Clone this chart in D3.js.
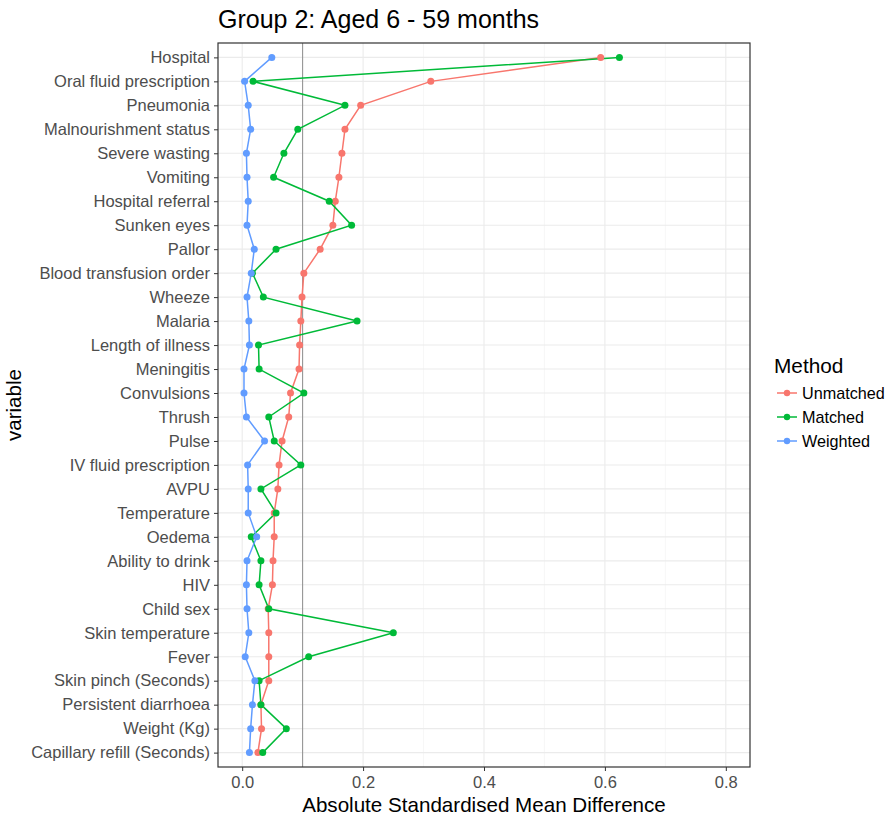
<!DOCTYPE html>
<html>
<head>
<meta charset="utf-8">
<script src="https://cdnjs.cloudflare.com/ajax/libs/d3/7.8.5/d3.min.js"></script>
<style>
  html, body { margin: 0; padding: 0; background: #fff; }
  svg { display: block; font-family: "Liberation Sans", Arial, sans-serif; }
</style>
</head>
<body>
<script>
// Covariates, top to bottom
const variables = [
  "Hospital", "Oral fluid prescription", "Pneumonia", "Malnourishment status",
  "Severe wasting", "Vomiting", "Hospital referral", "Sunken eyes", "Pallor",
  "Blood transfusion order", "Wheeze", "Malaria", "Length of illness",
  "Meningitis", "Convulsions", "Thrush", "Pulse", "IV fluid prescription",
  "AVPU", "Temperature", "Oedema", "Ability to drink", "HIV", "Child sex",
  "Skin temperature", "Fever", "Skin pinch (Seconds)", "Persistent diarrhoea",
  "Weight (Kg)", "Capillary refill (Seconds)"
];

const unmatched = [
  0.593, 0.312, 0.196, 0.170, 0.165, 0.160, 0.154, 0.150, 0.129, 0.102,
  0.099, 0.097, 0.095, 0.094, 0.080, 0.077, 0.066, 0.061, 0.059, 0.053,
  0.053, 0.051, 0.050, 0.043, 0.044, 0.044, 0.044, 0.031, 0.032, 0.026
];
const matched = [
  0.624, 0.018, 0.170, 0.092, 0.069, 0.052, 0.144, 0.181, 0.056, 0.017,
  0.035, 0.190, 0.027, 0.028, 0.102, 0.044, 0.053, 0.097, 0.031, 0.056,
  0.015, 0.031, 0.028, 0.044, 0.250, 0.110, 0.028, 0.031, 0.073, 0.034
];
const weighted = [
  0.049, 0.004, 0.010, 0.014, 0.007, 0.008, 0.010, 0.008, 0.020, 0.015,
  0.008, 0.011, 0.012, 0.003, 0.003, 0.007, 0.037, 0.009, 0.010, 0.010,
  0.024, 0.008, 0.007, 0.008, 0.011, 0.005, 0.021, 0.017, 0.014, 0.012
];

const methods = ["Unmatched", "Matched", "Weighted"];
const methodColors = ["#F8766D", "#00BA38", "#619CFF"];
const xTicks = [0, 0.2, 0.4, 0.6, 0.8];
const xMinor = [0.1, 0.3, 0.5, 0.7];
const threshold = 0.1;

const W = 889, H = 818;
const panel = { left: 218, top: 43, right: 750, bottom: 767 };

const svg = d3.select("body").append("svg").attr("width", W).attr("height", H);

// x: limits 0..0.8 with 5% expansion
const x = d3.scaleLinear().domain([-0.04, 0.84]).range([panel.left, panel.right]);
const y = d3.scalePoint().domain(variables).range([panel.top, panel.bottom]).padding(0.6);

// panel background
svg.append("rect")
  .attr("x", panel.left).attr("y", panel.top)
  .attr("width", panel.right - panel.left).attr("height", panel.bottom - panel.top)
  .attr("fill", "#fff");

const grid = svg.append("g");
grid.selectAll(".minor").data(xMinor).enter().append("line")
  .attr("x1", d => x(d)).attr("x2", d => x(d))
  .attr("y1", panel.top).attr("y2", panel.bottom)
  .attr("stroke", "#f2f2f2").attr("stroke-width", 0.6);
grid.selectAll(".majx").data(xTicks).enter().append("line")
  .attr("x1", d => x(d)).attr("x2", d => x(d))
  .attr("y1", panel.top).attr("y2", panel.bottom)
  .attr("stroke", "#ebebeb").attr("stroke-width", 1.1);
grid.selectAll(".majy").data(variables).enter().append("line")
  .attr("x1", panel.left).attr("x2", panel.right)
  .attr("y1", d => y(d)).attr("y2", d => y(d))
  .attr("stroke", "#ebebeb").attr("stroke-width", 1.1);

// reference line at 0.1
svg.append("line")
  .attr("x1", x(threshold)).attr("x2", x(threshold))
  .attr("y1", panel.top).attr("y2", panel.bottom)
  .attr("stroke", "#8c8c8c").attr("stroke-width", 1);

const seriesValues = [unmatched, matched, weighted];
const series = methods.map((m, i) => ({
  name: m, color: methodColors[i],
  points: variables.map((v, j) => ({ v, val: seriesValues[i][j] }))
}));

const line = d3.line().x(d => x(d.val)).y(d => y(d.v));

svg.append("g").selectAll("path").data(series).enter().append("path")
  .attr("d", d => line(d.points))
  .attr("fill", "none").attr("stroke", d => d.color).attr("stroke-width", 1.5);

series.forEach(s => {
  svg.append("g").selectAll("circle").data(s.points).enter().append("circle")
    .attr("cx", d => x(d.val)).attr("cy", d => y(d.v)).attr("r", 3.5)
    .attr("fill", s.color);
});

// panel border
svg.append("rect")
  .attr("x", panel.left).attr("y", panel.top)
  .attr("width", panel.right - panel.left).attr("height", panel.bottom - panel.top)
  .attr("fill", "none").attr("stroke", "#333").attr("stroke-width", 1.2);

// axes
const xAxis = svg.append("g").attr("transform", `translate(0,${panel.bottom})`)
  .call(d3.axisBottom(x).tickValues(xTicks).tickFormat(d3.format(".1f")).tickSize(4).tickPadding(5));
const yAxis = svg.append("g").attr("transform", `translate(${panel.left},0)`)
  .call(d3.axisLeft(y).tickSize(4).tickPadding(4));
[xAxis, yAxis].forEach(a => {
  a.select(".domain").remove();
  a.selectAll(".tick line").attr("stroke", "#333");
  a.selectAll(".tick text").attr("fill", "#4d4d4d").style("font-size", "16.5px")
    .style("font-family", "'Liberation Sans', Arial, sans-serif");
});

// titles
svg.append("text").attr("x", panel.left).attr("y", 28)
  .style("font-size", "25px").attr("fill", "#000")
  .text("Group 2: Aged 6 - 59 months");
svg.append("text").attr("x", 484).attr("y", 812)
  .attr("text-anchor", "middle").style("font-size", "20.6px").attr("fill", "#000")
  .text("Absolute Standardised Mean Difference");
svg.append("text")
  .attr("transform", `translate(21,${(panel.top + panel.bottom) / 2}) rotate(-90)`)
  .attr("text-anchor", "middle").style("font-size", "20.6px").attr("fill", "#000")
  .text("variable");

// legend
const lg = svg.append("g").attr("transform", "translate(774,0)");
lg.append("text").attr("x", 0).attr("y", 373).style("font-size", "20.8px").text("Method");
const items = lg.selectAll(".item").data(series).enter().append("g")
  .attr("transform", (d, i) => `translate(0,${393 + i * 24})`);
items.append("line").attr("x1", 3).attr("x2", 23).attr("y1", 0).attr("y2", 0)
  .attr("stroke", d => d.color).attr("stroke-width", 1.5);
items.append("circle").attr("cx", 13).attr("cy", 0).attr("r", 3.2).attr("fill", d => d.color);
items.append("text").attr("x", 28).attr("y", 6).style("font-size", "16.2px")
  .attr("fill", "#000").text(d => d.name);
</script>
</body>
</html>
